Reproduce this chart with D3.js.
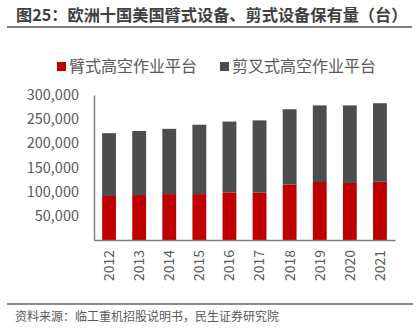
<!DOCTYPE html>
<html>
<head>
  <meta charset="utf-8">
  <script src="https://d3js.org/d3.v7.min.js"></script>
  <style>
    body { margin: 0; background: #fff; }
    text { font-family: "Noto Sans CJK SC", "Liberation Sans", sans-serif; }
  </style>
</head>
<body>
<script>
  // data
  var years = ["2012", "2013", "2014", "2015", "2016", "2017", "2018", "2019", "2020", "2021"]
  var boom = [91000, 93000, 95000, 95000, 98500, 98500, 114500, 120000, 118000, 120500]      // 臂式
  var scissor = [130000, 132500, 135000, 143500, 146500, 149000, 156000, 158500, 160500, 162500] // 剪叉式
  var seriesNames = ["臂式高空作业平台", "剪叉式高空作业平台"]
  var yTicks = [50000, 100000, 150000, 200000, 250000, 300000]

  var colors = ["#C00000", "#4C4D4F"]
  var W = 418, H = 333
  var m = {left: 94, right: 23, top: 95, bottom: 93}

  var svg = d3.select("body").append("svg")
    .attr("width", W).attr("height", H)

  // title + rule
  svg.append("text")
    .attr("x", 16).attr("y", 21)
    .attr("font-size", "16.2px").attr("font-weight", "bold")
    .attr("fill", "#3f3f3f")
    .text("图25：欧洲十国美国臂式设备、剪式设备保有量（台）")
  svg.append("line")
    .attr("x1", 7).attr("x2", 412).attr("y1", 27).attr("y2", 27)
    .attr("stroke", "#555").attr("stroke-width", 1.5)

  // legend
  var legX = [57, 220]
  seriesNames.forEach(function(name, i) {
    svg.append("rect")
      .attr("x", legX[i]).attr("y", 62).attr("width", 9).attr("height", 9)
      .attr("fill", colors[i])
    svg.append("text")
      .attr("x", legX[i] + 12).attr("y", 72)
      .attr("font-size", "16px").attr("fill", "#595959")
      .text(name)
  })

  var x = d3.scaleBand()
    .domain(years)
    .range([m.left, W - m.right])
    .paddingInner(0.54).paddingOuter(0.27)

  var y = d3.scaleLinear()
    .domain([0, 300000])
    .range([H - m.bottom, m.top])

  var rows = years.map(function(yr, i) { return {year: yr, boom: boom[i], scissor: scissor[i]} })
  var stack = d3.stack().keys(["boom", "scissor"])(rows)

  svg.append("g").selectAll("g").data(stack).enter().append("g")
    .attr("fill", function(d, i) { return colors[i] })
    .selectAll("rect").data(function(d) { return d }).enter().append("rect")
    .attr("x", function(d) { return x(d.data.year) })
    .attr("width", x.bandwidth())
    .attr("y", function(d) { return y(d[1]) })
    .attr("height", function(d) { return y(d[0]) - y(d[1]) })

  // y axis
  var yAxis = svg.append("g")
    .attr("transform", "translate(" + m.left + ",0)")
    .call(d3.axisLeft(y).tickValues(yTicks).tickSize(0).tickPadding(15)
      .tickFormat(d3.format(",")))
  yAxis.select(".domain").attr("stroke", "#7f7f7f").attr("stroke-width", 1.5)
  yAxis.selectAll("text")
    .attr("font-family", "'Liberation Sans', sans-serif")
    .attr("font-size", "14.5px").attr("fill", "#595959")

  // x axis
  var xAxis = svg.append("g")
    .attr("transform", "translate(0," + (H - m.bottom) + ")")
    .call(d3.axisBottom(x).tickSize(0))
  xAxis.select(".domain").attr("stroke", "#7f7f7f").attr("stroke-width", 1.5)
  xAxis.selectAll("text")
    .attr("font-family", "'Liberation Sans', sans-serif")
    .attr("font-size", "14px").attr("fill", "#595959")
    .attr("transform", "rotate(-90)")
    .attr("text-anchor", "end")
    .attr("dy", "0.35em")
    .attr("x", -10).attr("y", 0)

  // footer
  svg.append("line")
    .attr("x1", 7).attr("x2", 413).attr("y1", 304).attr("y2", 304)
    .attr("stroke", "#666").attr("stroke-width", 1.5)
  svg.append("text")
    .attr("x", 15).attr("y", 321)
    .attr("font-size", "12px").attr("fill", "#595959")
    .text("资料来源：临工重机招股说明书，民生证券研究院")
</script>
</body>
</html>
